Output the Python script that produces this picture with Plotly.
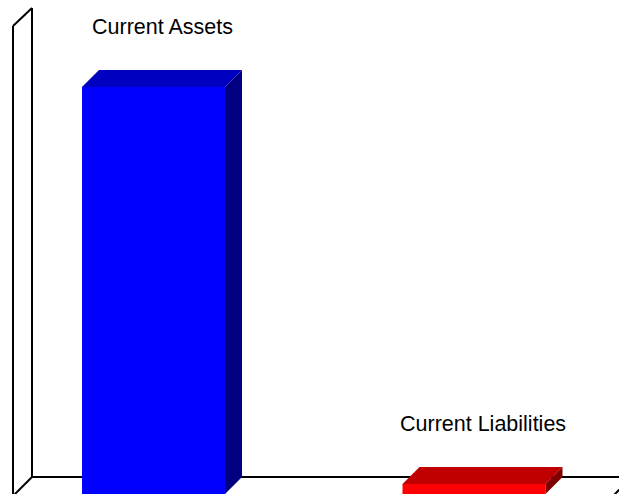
import plotly.graph_objects as go

# Balance-sheet comparison (values in thousands)
categories = ["Current Assets", "Current Liabilities"]
values = [407, 10]

front_colors = ["#0000FF", "#FF0000"]
top_colors = ["#0000C0", "#C00000"]
side_colors = ["#000080", "#800000"]

# Canvas and pseudo-3D geometry (pixels)
W, H = 619, 494
px_per_cat = 320.5
first_center_px = 153.5
bar_px = 143
depth_px = 17
top_gap_px = 87
line_w = 2

y_max = max(values) * H / (H - top_gap_px)
dx = depth_px / px_per_cat
dy = depth_px * y_max / H
bw = bar_px / px_per_cat
xs = list(range(len(categories)))

fig = go.Figure()
fig.add_trace(go.Bar(
    x=xs, y=values, width=bw,
    marker=dict(color=front_colors, line=dict(width=0)),
    hoverinfo="skip", showlegend=False,
))


def paper(x, y):
    return x / W, 1 - y / H


shapes = []
# Left wall and floor outline
wall_segments = [
    ((13, 26), (13, 500)),
    ((32, 8), (32, 477)),
    ((13, 26), (32, 8)),
    ((32, 477), (13, 496)),
    ((32, 477), (632, 477)),
    ((632, 477), (613, 496)),
]
for (x0, y0), (x1, y1) in wall_segments:
    px0, py0 = paper(x0, y0)
    px1, py1 = paper(x1, y1)
    shapes.append(dict(type="line", xref="paper", yref="paper",
                       x0=px0, y0=py0, x1=px1, y1=py1,
                       line=dict(color="black", width=line_w), layer="below"))

# Top and side faces of each bar
for i, v in zip(xs, values):
    left, right = i - bw / 2, i + bw / 2
    top = (f"M {left},{v} L {left + dx},{v + dy} L {right + dx},{v + dy} "
           f"L {right},{v} Z")
    side = (f"M {right},0 L {right},{v} L {right + dx},{v + dy} "
            f"L {right + dx},{dy} Z")
    shapes.append(dict(type="path", xref="x", yref="y", path=top,
                       fillcolor=top_colors[i], line=dict(width=0), layer="above"))
    shapes.append(dict(type="path", xref="x", yref="y", path=side,
                       fillcolor=side_colors[i], line=dict(width=0), layer="above"))

annotations = []
for i, v in zip(xs, values):
    annotations.append(dict(
        x=i + dx / 2, y=v + dy, xref="x", yref="y",
        text=categories[i], showarrow=False,
        xanchor="center", yanchor="middle", yshift=43,
        font=dict(family="Liberation Sans, Arial, sans-serif", size=21.5, color="black"),
    ))

fig.update_layout(
    width=W, height=H,
    margin=dict(l=0, r=0, t=0, b=0),
    paper_bgcolor="white", plot_bgcolor="white",
    xaxis=dict(range=[-first_center_px / px_per_cat, (W - first_center_px) / px_per_cat],
               visible=False, fixedrange=True),
    yaxis=dict(range=[0, y_max], visible=False, fixedrange=True),
    shapes=shapes, annotations=annotations,
    showlegend=False, hovermode=False,
)

fig.write_html("out.html", config={"displayModeBar": False})
